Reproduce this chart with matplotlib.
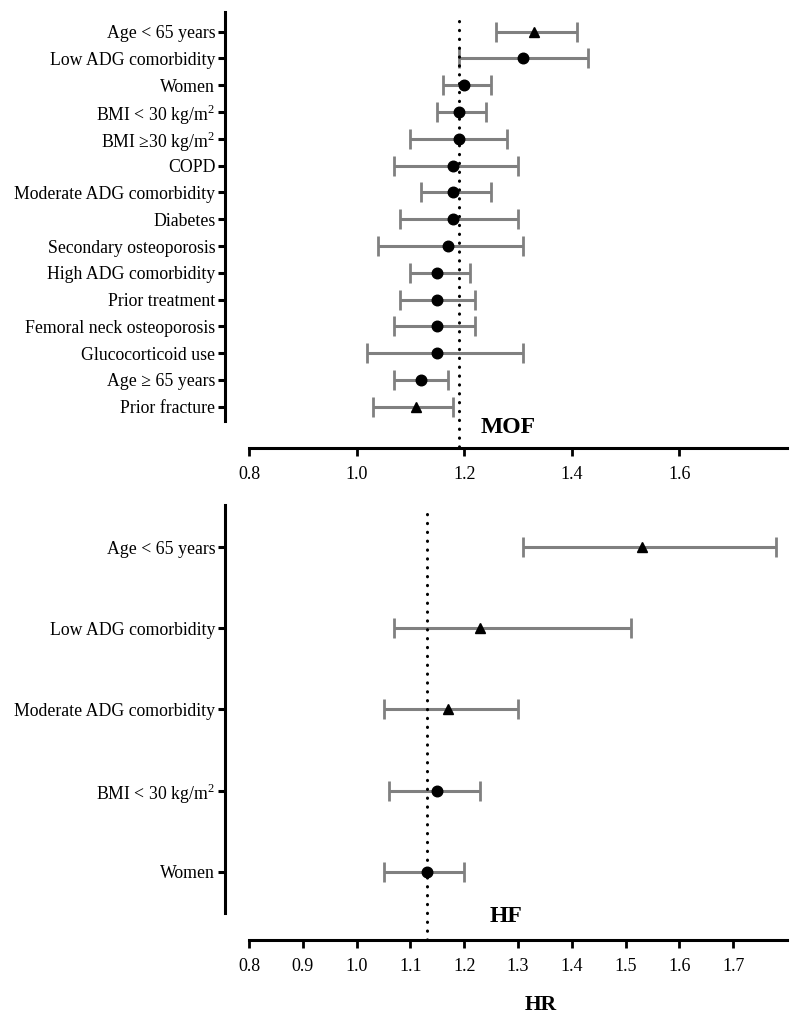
import matplotlib
matplotlib.use("Agg")
import matplotlib.pyplot as plt
import matplotlib.transforms as mtransforms

plt.rcParams['font.family'] = ['Liberation Serif', 'DejaVu Serif']
plt.rcParams['mathtext.fontset'] = 'custom'
plt.rcParams['mathtext.rm'] = 'Liberation Serif'

# ---- MOF data ----
mof_labels = ["Age < 65 years", "Low ADG comorbidity", "Women",
              "BMI < 30 kg/m$^2$", "BMI \u226530 kg/m$^2$", "COPD",
              "Moderate ADG comorbidity", "Diabetes", "Secondary osteoporosis",
              "High ADG comorbidity", "Prior treatment",
              "Femoral neck osteoporosis", "Glucocorticoid use",
              "Age \u2265 65 years", "Prior fracture"]
mof_hr = [1.33, 1.31, 1.20, 1.19, 1.19, 1.18, 1.18, 1.18, 1.17, 1.15, 1.15,
          1.15, 1.15, 1.12, 1.11]
mof_lo = [1.26, 1.19, 1.16, 1.15, 1.10, 1.07, 1.12, 1.08, 1.04, 1.10, 1.08,
          1.07, 1.02, 1.07, 1.03]
mof_hi = [1.41, 1.43, 1.25, 1.24, 1.28, 1.30, 1.25, 1.30, 1.31, 1.21, 1.22,
          1.22, 1.31, 1.17, 1.18]
mof_marker = ["^", "o", "o", "o", "o", "o", "o", "o", "o", "o", "o", "o",
              "o", "o", "^"]
mof_ref = 1.19
mof_ticks = [0.8, 1.0, 1.2, 1.4, 1.6]

# ---- HF data ----
hf_labels = ["Age < 65 years", "Low ADG comorbidity",
             "Moderate ADG comorbidity", "BMI < 30 kg/m$^2$", "Women"]
hf_hr = [1.53, 1.23, 1.17, 1.15, 1.13]
hf_lo = [1.31, 1.07, 1.05, 1.06, 1.05]
hf_hi = [1.78, 1.51, 1.30, 1.23, 1.20]
hf_marker = ["^", "^", "^", "o", "o"]
hf_ref = 1.13
hf_ticks = [0.8, 0.9, 1.0, 1.1, 1.2, 1.3, 1.4, 1.5, 1.6, 1.7]

W, H = 800, 1023
fig = plt.figure(figsize=(W / 100, H / 100), dpi=100)


def panel(rect, labels, hr, lo, hi, markers, ref, ticks, ylim, xoff,
          title, title_xy):
    ax = fig.add_axes(rect)
    n = len(labels)
    ys = list(range(n))
    for y, h, l, u, m in zip(ys, hr, lo, hi, markers):
        ax.errorbar([h], [y], xerr=[[h - l], [u - h]], fmt='none',
                    ecolor='#808080', elinewidth=2.2, capsize=7,
                    capthick=2.0, zorder=2)
        ax.plot([h], [y], marker=m, color='black',
                markersize=7.6 if m == 'o' else 7.8, linestyle='none',
                zorder=4)
    trans = mtransforms.blended_transform_factory(ax.transData, ax.transAxes)
    ax.plot([ref, ref], [0.979, -xoff / rect[3] / H * 1.0], transform=trans,
            color='black', linestyle=(0, (0.1, 2.8)), dash_capstyle='round',
            linewidth=2.2, clip_on=False, zorder=3)
    ax.set_xlim(0.8, 1.8)
    ax.set_ylim(*ylim)
    ax.set_yticks(ys)
    ax.set_yticklabels(labels)
    ax.set_xticks(ticks)
    ax.set_xticklabels([f"{t:.1f}" for t in ticks])
    for s in ['top', 'right']:
        ax.spines[s].set_visible(False)
    ax.spines['left'].set_position(('outward', 17.3))
    ax.spines['bottom'].set_position(('outward', xoff * 0.72))
    ax.spines['left'].set_linewidth(2.2)
    ax.spines['bottom'].set_linewidth(2.2)
    ax.tick_params(axis='y', length=5, width=2.2, pad=2, labelsize=12.8)
    ax.tick_params(axis='x', length=6, width=2.0, pad=7, labelsize=13)
    fig.text(title_xy[0] / W, 1 - title_xy[1] / H, title, fontsize=17,
             fontweight='bold', ha='center', va='center')
    return ax


# top panel: data region y 12..420.7 px, x 249..787 px
panel([249 / W, 1 - 420.7 / H, 538 / W, 408.7 / H], mof_labels, mof_hr,
      mof_lo, mof_hi, mof_marker, mof_ref, mof_ticks, (14.52, -0.735), 27.6,
      "MOF", (508, 427))
# bottom panel: data region y 505..913 px
panel([249 / W, 1 - 913 / H, 538 / W, 408 / H], hf_labels, hf_hr, hf_lo,
      hf_hi, hf_marker, hf_ref, hf_ticks, (4.51, -0.52), 27.0,
      "HF", (506, 917))

fig.text(540.5 / W, 1 - 1004.5 / H, "HR", fontsize=15.5, fontweight='bold',
         ha='center', va='center')

fig.savefig("out.png", dpi=100)
